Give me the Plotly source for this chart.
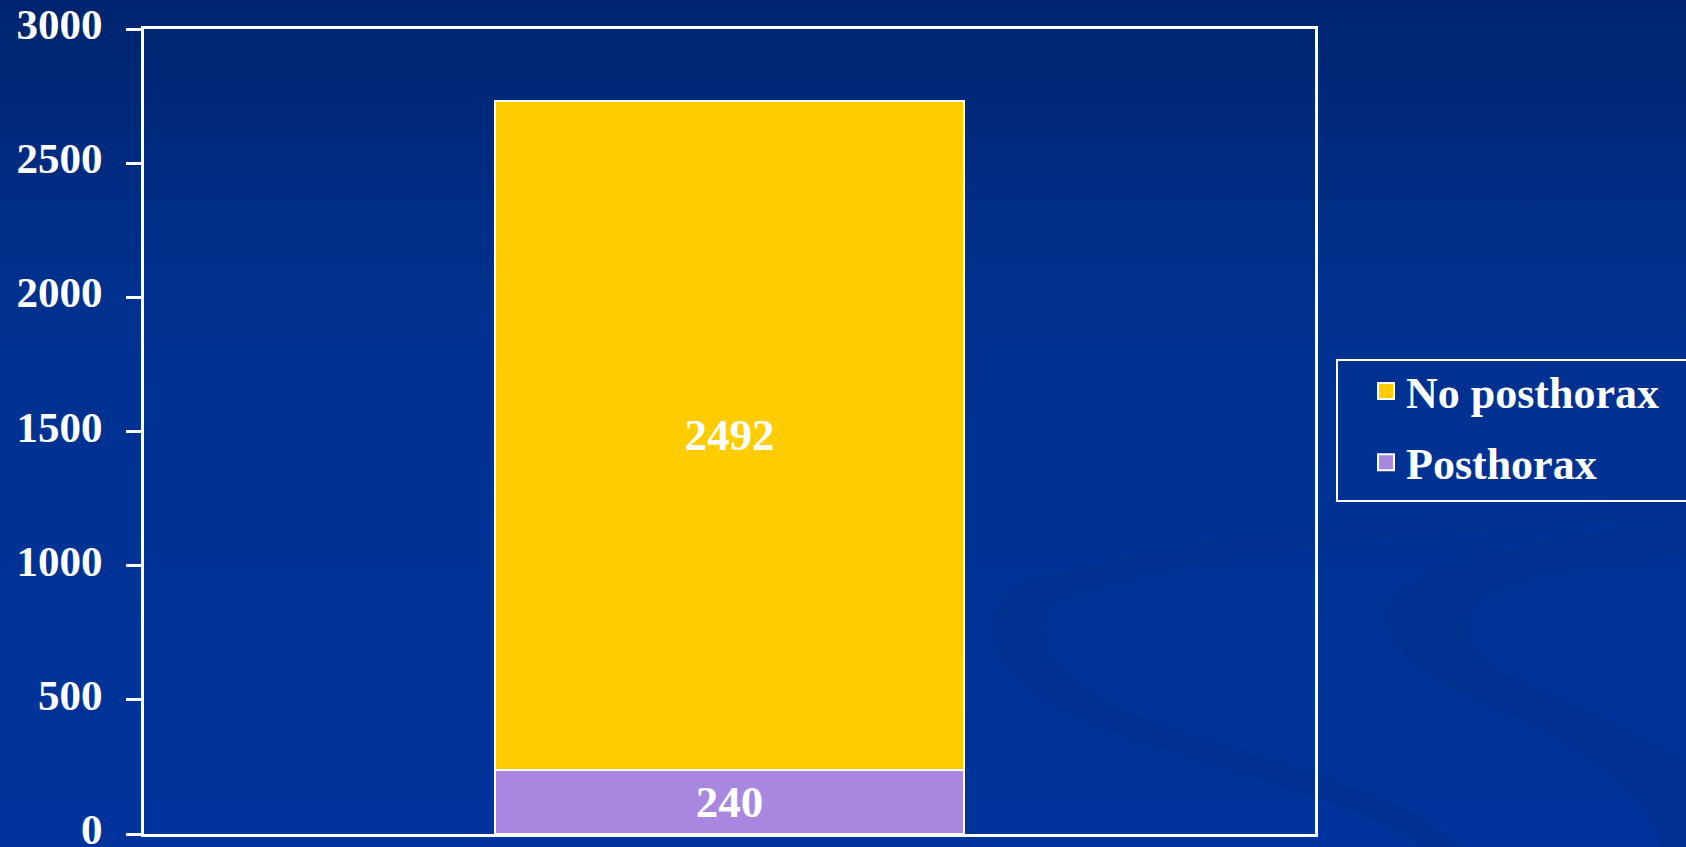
import base64
import plotly.graph_objects as go

# ---- data ----
categories = ["Patients"]
series_names = ["Posthorax", "No posthorax"]
posthorax = [240]
no_posthorax = [2492]
colors = ["#A787DF", "#FFCC00"]
y_ticks = [0, 500, 1000, 1500, 2000, 2500, 3000]

W, H = 1686, 847
L, R, T, B = 144, 371, 29, 13
pw, ph = W - L - R, H - T - B

font_family = "Liberation Serif, Times New Roman, serif"

svg = f'''<svg xmlns="http://www.w3.org/2000/svg" width="{W}" height="{H}" viewBox="0 0 {W} {H}" preserveAspectRatio="none">
<defs><linearGradient id="g" x1="0" y1="0" x2="0" y2="1">
<stop offset="0" stop-color="#00246E"/><stop offset="0.35" stop-color="#00318F"/><stop offset="1" stop-color="#00349C"/>
</linearGradient></defs>
<rect width="{W}" height="{H}" fill="url(#g)"/>
<path d="M1700 490 C1400 510 1120 540 1010 590 C960 640 1010 700 1130 740 C1250 780 1380 810 1420 847 L1460 847 C1420 800 1300 770 1180 730 C1050 690 1020 630 1060 600 C1150 560 1420 530 1700 520 Z" fill="#00308E" opacity="0.7"/>
<path d="M1700 520 C1560 530 1420 560 1390 600 C1370 650 1440 690 1520 720 C1600 760 1650 800 1660 847 L1686 847 L1686 760 C1640 730 1560 700 1500 670 C1450 640 1460 600 1520 580 C1580 565 1640 560 1700 555 Z" fill="#00308E" opacity="0.7"/>
</svg>'''
bg_src = "data:image/svg+xml;base64," + base64.b64encode(svg.encode()).decode()

fig = go.Figure()

fig.add_trace(go.Bar(
    x=categories, y=posthorax, name=series_names[0],
    marker=dict(color=colors[0], line=dict(color="white", width=2)),
    text=[str(v) for v in posthorax], textposition="inside", insidetextanchor="middle",
    textfont=dict(family=font_family, size=45, color="white", weight="bold"),
    showlegend=False, width=0.4,
))
fig.add_trace(go.Bar(
    x=categories, y=no_posthorax, name=series_names[1],
    marker=dict(color=colors[1], line=dict(color="white", width=2)),
    text=[str(v) for v in no_posthorax], textposition="inside", insidetextanchor="middle",
    textfont=dict(family=font_family, size=45, color="white", weight="bold"),
    showlegend=False, width=0.4,
))

# legend entries (larger square symbols)
for name, col, grp in [(series_names[1], colors[1], "a"), (series_names[0], colors[0], "b")]:
    fig.add_trace(go.Scatter(
        x=[None], y=[None], mode="markers", name=name, legendgroup=grp,
        marker=dict(symbol="square", size=16, color=col, line=dict(color="white", width=2)),
        showlegend=True,
    ))

fig.update_layout(
    width=W, height=H,
    margin=dict(l=L, r=R, t=T, b=B, pad=0, autoexpand=False),
    paper_bgcolor="#00339A",
    plot_bgcolor="rgba(0,0,0,0)",
    barmode="stack",
    font=dict(family=font_family, color="white", size=44),
    images=[dict(
        source=bg_src, xref="paper", yref="paper",
        x=-L / pw, y=1 + T / ph, sizex=W / pw, sizey=H / ph,
        xanchor="left", yanchor="top", sizing="stretch", layer="below",
    )],
    xaxis=dict(
        range=[-0.5, 0.5], showticklabels=False, ticks="",
        showline=True, mirror=True, linecolor="white", linewidth=3,
        showgrid=False, zeroline=False, fixedrange=True, automargin=False,
    ),
    yaxis=dict(
        range=[0, 3000], tickvals=y_ticks, ticktext=[str(v) for v in y_ticks],
        ticks="outside", ticklen=15, tickwidth=3, tickcolor="white",
        ticklabelstandoff=15, ticklabelshift=-5, ticklabeloverflow="allow",
        automargin=False,
        tickfont=dict(family=font_family, size=43, color="white", weight="bold"),
        showline=True, mirror=True, linecolor="white", linewidth=3,
        showgrid=False, zeroline=False,
    ),
    legend=dict(
        x=(1366 - L) / pw, xanchor="left",
        y=(H - B - 356) / ph, yanchor="top",
        bgcolor="rgba(0,0,0,0)", borderwidth=0,
        font=dict(family=font_family, size=44, color="white", weight="bold"),
        traceorder="grouped", tracegroupgap=11,
        itemsizing="trace",
    ),
    shapes=[dict(
        type="rect", xref="paper", yref="paper",
        x0=(1337 - L) / pw, x1=(1700 - L) / pw,
        y0=(H - B - 501) / ph, y1=(H - B - 360) / ph,
        line=dict(color="white", width=2), fillcolor="rgba(0,0,0,0)",
    )],
    uniformtext=dict(minsize=10, mode="show"),
)

fig.write_html(
    "out.html",
    config={"displayModeBar": False},
    post_script="document.body.style.margin='0';document.body.style.overflow='hidden';",
)
